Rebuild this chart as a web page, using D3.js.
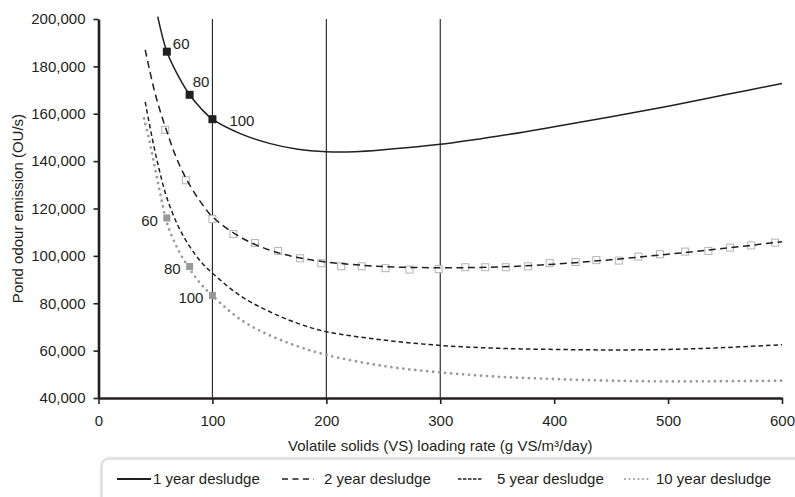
<!DOCTYPE html>
<html>
<head>
<meta charset="utf-8">
<script src="https://cdn.jsdelivr.net/npm/d3@7"></script>
<style>
  html, body { margin: 0; padding: 0; background: #ffffff; }
  svg { display: block; font-family: "Liberation Sans", Arial, sans-serif; }
</style>
</head>
<body>
<svg id="chart" width="795" height="497"></svg>
<script>
// Pond odour emission vs VS loading rate, for four desludging intervals

const xTicks = [0, 100, 200, 300, 400, 500, 600];
const yTicks = [40000, 60000, 80000, 100000, 120000, 140000, 160000, 180000, 200000];
const refLines = [100, 200, 300];

// 1 year desludge (solid)
const oneYearX = [52, 60, 70, 80, 90, 100, 125, 150, 175, 200, 225, 250, 300, 350, 400, 450, 500, 550, 600];
const oneYearY = [201000, 186200, 176000, 168000, 162200, 157700, 151500, 147500, 145000, 144000, 144000, 144800, 147100, 150500, 154500, 158700, 163200, 168000, 172800];

// 2 year desludge (long dash) and its modelled points (open squares)
const twoYearX = [41, 50, 60, 70, 80, 90, 100, 125, 150, 175, 200, 250, 300, 350, 400, 450, 500, 550, 600];
const twoYearY = [187000, 168000, 152500, 139500, 130000, 122500, 116500, 107800, 102500, 99300, 97400, 95500, 95000, 95300, 96500, 98400, 100700, 103200, 106000];
const twoYearPtsX = [58.6, 76.7, 100, 118.4, 137.4, 157.7, 177, 195.6, 213, 231, 252, 273, 298.6, 322, 339.5, 357.5, 377, 396, 418.8, 437, 456.7, 474, 493, 515, 535.4, 554.4, 573, 594];
const twoYearPtsY = [153200, 131900, 115500, 109200, 105400, 102100, 99000, 96900, 95600, 95600, 94800, 94200, 94400, 95200, 95200, 95200, 95600, 96900, 97400, 98200, 98000, 99700, 100700, 101800, 102100, 103500, 104400, 105600];

// 5 year desludge (short dash)
const fiveYearX = [41, 47, 53, 60, 70, 80, 90, 100, 125, 150, 175, 200, 250, 300, 350, 400, 450, 500, 550, 600];
const fiveYearY = [165000, 150000, 137000, 124500, 112500, 104000, 97500, 92700, 83000, 76500, 71500, 68000, 64500, 62200, 61000, 60500, 60300, 60500, 61300, 62500];

// 10 year desludge (grey dots)
const tenYearX = [40, 45, 50, 55, 60, 70, 80, 90, 100, 125, 150, 175, 200, 250, 300, 350, 400, 450, 500, 550, 600];
const tenYearY = [158000, 148000, 136000, 124500, 114000, 102500, 94500, 88000, 83200, 73000, 66500, 61800, 58200, 53500, 50800, 49000, 48000, 47300, 47000, 47100, 47300];

// Labelled loading rates on the 1 year and 10 year curves
const markRates = [60, 80, 100];
const oneYearMarkY = [186200, 168000, 157700];
const tenYearMarkY = [116000, 95500, 83300];

const seriesNames = ["1 year desludge", "2 year desludge", "5 year desludge", "10 year desludge"];

// ---- layout ----
const svg = d3.select("#chart");
const W = 795, H = 497;
const plot = { left: 98.5, right: 782, top: 19, bottom: 398 };
const ink = "#231f20";

svg.append("rect").attr("width", W).attr("height", H).attr("fill", "#fff");

const x = d3.scaleLinear().domain([0, 600]).range([plot.left, plot.right]);
const y = d3.scaleLinear().domain([40000, 200000]).range([plot.bottom, plot.top]);

const zip = (xs, ys) => xs.map((v, i) => [v, ys[i]]);
const line = d3.line()
  .x(d => x(d[0]))
  .y(d => y(d[1]))
  .curve(d3.curveCatmullRom.alpha(0.5));

// vertical reference lines
svg.append("g").selectAll("line").data(refLines).join("line")
  .attr("x1", d => x(d)).attr("x2", d => x(d))
  .attr("y1", y(200000)).attr("y2", y(40000))
  .attr("stroke", ink).attr("stroke-width", 1.1);

// open squares for the 2 year points (under the line)
const sq = 7;
svg.append("g").selectAll("rect").data(zip(twoYearPtsX, twoYearPtsY)).join("rect")
  .attr("x", d => x(d[0]) - sq / 2).attr("y", d => y(d[1]) - sq / 2)
  .attr("width", sq).attr("height", sq)
  .attr("fill", "#fff").attr("stroke", "#b3b3b3").attr("stroke-width", 1);

// curves
svg.append("path").datum(zip(tenYearX, tenYearY)).attr("d", line)
  .attr("fill", "none").attr("stroke", "#9a9a9a").attr("stroke-width", 2.8)
  .attr("stroke-linecap", "round").attr("stroke-dasharray", "0,6");

svg.append("path").datum(zip(fiveYearX, fiveYearY)).attr("d", line)
  .attr("fill", "none").attr("stroke", ink).attr("stroke-width", 1.5)
  .attr("stroke-dasharray", "4.5,3");

svg.append("path").datum(zip(twoYearX, twoYearY)).attr("d", line)
  .attr("fill", "none").attr("stroke", ink).attr("stroke-width", 1.5)
  .attr("stroke-dasharray", "7,4.5");

svg.append("path").datum(zip(oneYearX, oneYearY)).attr("d", line)
  .attr("fill", "none").attr("stroke", ink).attr("stroke-width", 1.5);

// filled markers with loading-rate labels
const bigSq = 8;
svg.append("g").selectAll("rect").data(zip(markRates, oneYearMarkY)).join("rect")
  .attr("x", d => x(d[0]) - bigSq / 2).attr("y", d => y(d[1]) - bigSq / 2)
  .attr("width", bigSq).attr("height", bigSq).attr("fill", ink);

const oneYearLabelOffset = [[6, -8], [3, -13], [17, 2]];
svg.append("g").selectAll("text").data(zip(markRates, oneYearMarkY)).join("text")
  .attr("x", (d, i) => x(d[0]) + oneYearLabelOffset[i][0])
  .attr("y", (d, i) => y(d[1]) + oneYearLabelOffset[i][1])
  .attr("dy", "0.35em")
  .attr("font-size", 15).attr("fill", ink)
  .text(d => d[0]);

svg.append("g").selectAll("rect").data(zip(markRates, tenYearMarkY)).join("rect")
  .attr("x", d => x(d[0]) - sq / 2).attr("y", d => y(d[1]) - sq / 2)
  .attr("width", sq).attr("height", sq).attr("fill", "#999999");

svg.append("g").selectAll("text").data(zip(markRates, tenYearMarkY)).join("text")
  .attr("x", d => x(d[0]) - 9)
  .attr("y", d => y(d[1]) + 2.5)
  .attr("dy", "0.35em")
  .attr("text-anchor", "end")
  .attr("font-size", 15).attr("fill", ink)
  .text(d => d[0]);

// axes
const yAxis = svg.append("g").attr("transform", `translate(${plot.left},0)`)
  .call(d3.axisLeft(y).tickValues(yTicks).tickFormat(d3.format(",")).tickSize(5).tickPadding(8).tickSizeOuter(0));
const xAxis = svg.append("g").attr("transform", `translate(0,${plot.bottom})`)
  .call(d3.axisBottom(x).tickValues(xTicks).tickFormat(d3.format("d")).tickSize(6).tickPadding(11).tickSizeOuter(0));

[xAxis, yAxis].forEach(g => {
  g.select(".domain").attr("stroke", ink).attr("stroke-width", 2.6);
  g.selectAll(".tick line").attr("stroke", ink).attr("stroke-width", 1.6);
  g.selectAll(".tick text").attr("font-size", 15).attr("fill", ink)
    .attr("font-family", "'Liberation Sans', Arial, sans-serif");
});

// axis titles
svg.append("text")
  .attr("x", (plot.left + plot.right) / 2).attr("y", 446)
  .attr("dy", "0.35em").attr("text-anchor", "middle")
  .attr("font-size", 15).attr("fill", ink)
  .text("Volatile solids (VS) loading rate (g VS/m³/day)");

svg.append("text")
  .attr("transform", `translate(18,${(plot.top + plot.bottom) / 2}) rotate(-90)`)
  .attr("dy", "0.35em").attr("text-anchor", "middle")
  .attr("font-size", 15).attr("fill", ink)
  .text("Pond odour emission (OU/s)");

// legend
const defs = svg.append("defs");
const f = defs.append("filter").attr("id", "legShadow")
  .attr("x", "-5%").attr("y", "-30%").attr("width", "110%").attr("height", "160%");
f.append("feDropShadow").attr("dx", 0).attr("dy", 0).attr("stdDeviation", 1.6)
  .attr("flood-color", "#000").attr("flood-opacity", 0.35);

svg.append("rect")
  .attr("x", 102).attr("y", 459).attr("width", 720).attr("height", 60)
  .attr("rx", 7).attr("ry", 7)
  .attr("fill", "#fff").attr("stroke", "#d0d0d0").attr("stroke-width", 1)
  .attr("filter", "url(#legShadow)");

const legendStyles = [
  { stroke: ink, width: 2, dash: null, cap: "butt" },
  { stroke: ink, width: 1.5, dash: "6,4.5", cap: "butt" },
  { stroke: ink, width: 1.5, dash: "3.5,1.5", cap: "butt" },
  { stroke: "#9a9a9a", width: 2, dash: "0,4.5", cap: "round" }
];
const legendLayout = [
  { x0: 117, x1: 151, tx: 153 },
  { x0: 282, x1: 314, tx: 324 },
  { x0: 458, x1: 483, tx: 497 },
  { x0: 625, x1: 652, tx: 656 }
];
const legY = 479;
const leg = svg.append("g").selectAll("g").data(seriesNames).join("g");
leg.append("line")
  .attr("x1", (d, i) => legendLayout[i].x0).attr("x2", (d, i) => legendLayout[i].x1)
  .attr("y1", legY).attr("y2", legY)
  .attr("stroke", (d, i) => legendStyles[i].stroke)
  .attr("stroke-width", (d, i) => legendStyles[i].width)
  .attr("stroke-linecap", (d, i) => legendStyles[i].cap)
  .attr("stroke-dasharray", (d, i) => legendStyles[i].dash);
leg.append("text")
  .attr("x", (d, i) => legendLayout[i].tx).attr("y", legY)
  .attr("dy", "0.35em").attr("font-size", 15).attr("fill", ink)
  .text(d => d);
</script>
</body>
</html>
